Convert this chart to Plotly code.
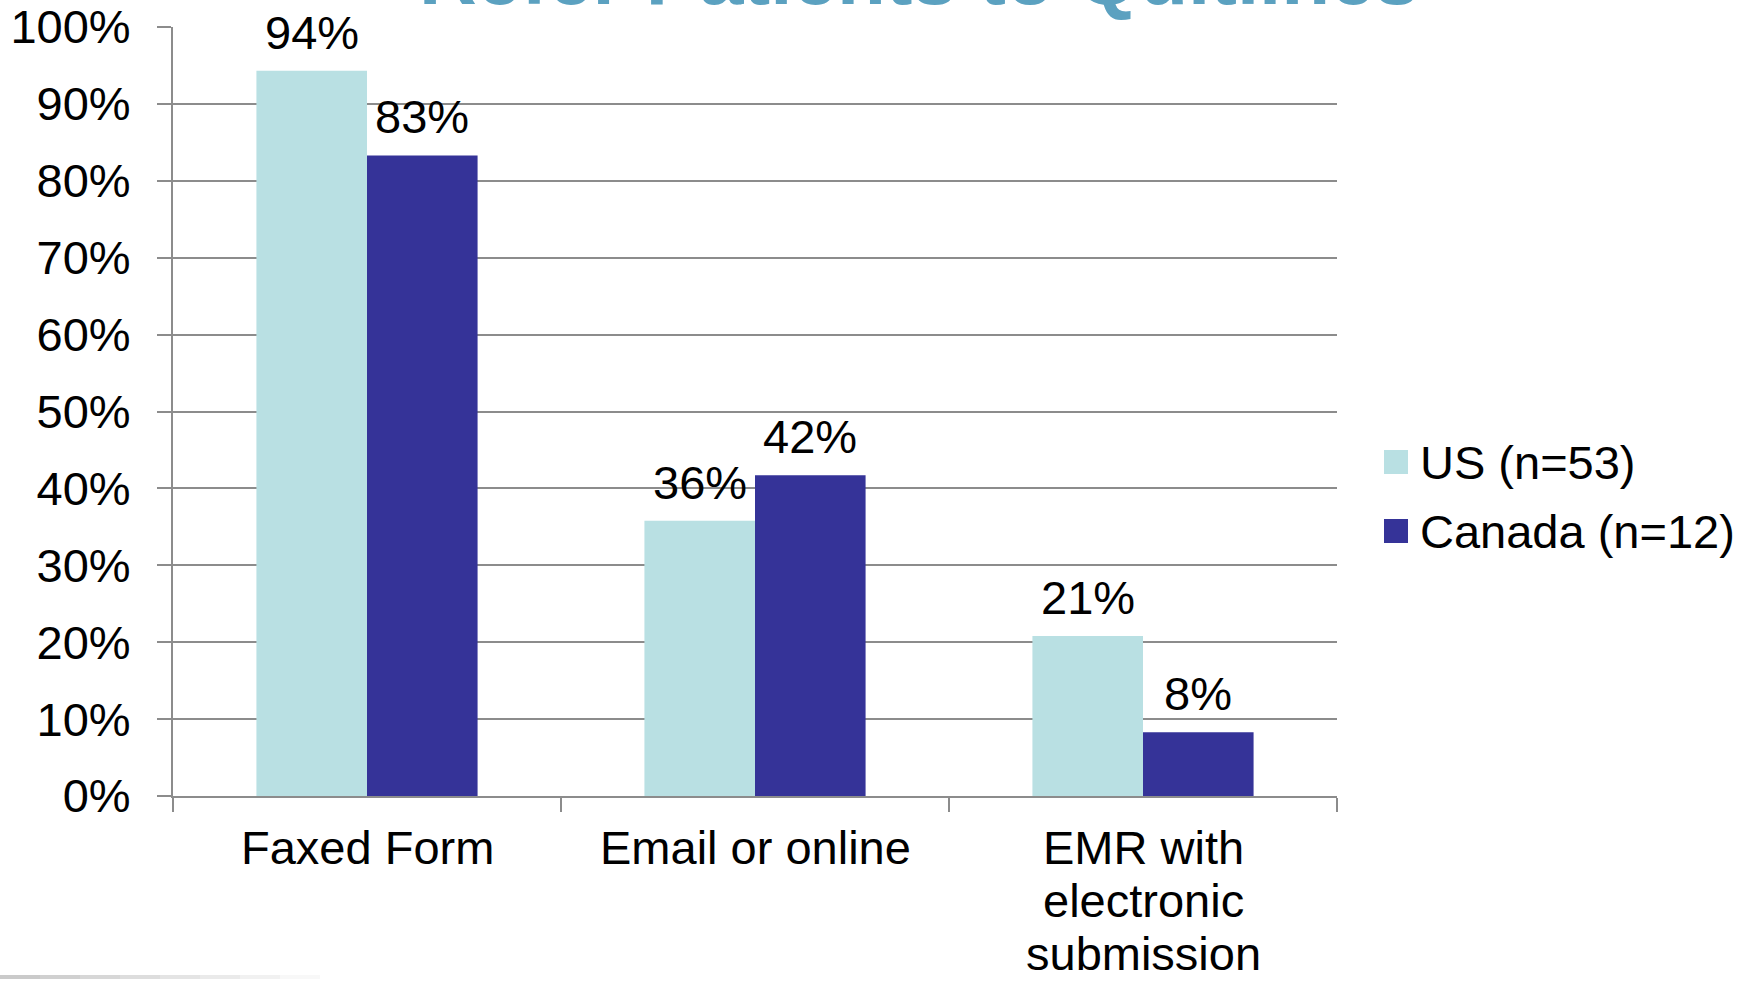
import plotly.graph_objects as go

# Referral methods and share of quitlines using each one
categories = ["Faxed Form", "Email or online", "EMR with electronic submission"]
category_lines = [["Faxed Form"], ["Email or online"], ["EMR with", "electronic", "submission"]]
series_names = ["US (n=53)", "Canada (n=12)"]
us_values = [94.3, 35.8, 20.8]
canada_values = [83.3, 41.7, 8.3]
series_values = [us_values, canada_values]
series_colors = ["#B9E0E3", "#353398"]
y_ticks = [0, 10, 20, 30, 40, 50, 60, 70, 80, 90, 100]
y_tick_labels = [f"{v}%" for v in y_ticks]
title_text = "Refer Patients to Quitlines"

W, H = 1758, 981
ML, MR, MT, MB = 173, 421, 27, 185
PW, PH = W - ML - MR, H - MT - MB
BARGAP = 0.43
FONT = "Arial, Liberation Sans, sans-serif"
FS = 47
DESC = 9          # distance from text baseline to annotation box bottom
LINE_STEP = 53    # baseline-to-baseline spacing of category labels
FIRST_BASELINE = 867


def px_to_paper_x(px):
    return (px - ML) / PW


def px_to_paper_y(py):
    return (H - MB - py) / PH


fig = go.Figure()
for name, vals, color in zip(series_names, series_values, series_colors):
    fig.add_trace(go.Bar(
        name=name, x=categories, y=vals,
        marker=dict(color=color, line=dict(width=0)),
        showlegend=False,
    ))

# value labels above each bar, placed at the bar's own height
bar_w = (1 - BARGAP) / len(series_values)
for s, vals in enumerate(series_values):
    offset = (s - (len(series_values) - 1) / 2) * bar_w
    for i, v in enumerate(vals):
        fig.add_annotation(
            x=i + offset, y=v, xref="x", yref="y",
            text=f"{v:.0f}%", showarrow=False,
            yanchor="bottom", yshift=10,
            font=dict(family=FONT, size=FS, color="#000000"),
        )

# category labels under the axis, set line by line
for i, lines in enumerate(category_lines):
    for j, line in enumerate(lines):
        fig.add_annotation(
            x=i, xref="x", yref="paper",
            y=px_to_paper_y(FIRST_BASELINE + j * LINE_STEP + DESC),
            xanchor="center", yanchor="bottom",
            text=line, showarrow=False,
            font=dict(family=FONT, size=FS, color="#000000"),
        )

# legend drawn as swatches with labels
legend_x = 1384
legend_rows = [462, 531]
sw = 24
for name, color, cy in zip(series_names, series_colors, legend_rows):
    fig.add_shape(
        type="rect", xref="paper", yref="paper",
        x0=px_to_paper_x(legend_x), x1=px_to_paper_x(legend_x + sw),
        y0=px_to_paper_y(cy + sw / 2), y1=px_to_paper_y(cy - sw / 2),
        fillcolor=color, line=dict(width=0),
    )
    fig.add_annotation(
        x=px_to_paper_x(legend_x + sw + 10), y=px_to_paper_y(cy),
        xref="paper", yref="paper", xanchor="left", yanchor="middle",
        text=name, showarrow=False,
        font=dict(family=FONT, size=FS, color="#000000"),
    )

# slide title, running off the top edge
fig.add_annotation(
    x=px_to_paper_x(919), y=px_to_paper_y(23), xref="paper", yref="paper",
    xanchor="center", yanchor="bottom",
    text=f"<b>{title_text}</b>", showarrow=False,
    font=dict(family=FONT, size=80, color="#5BA1C0"),
)

# faint fading rule at the bottom-left corner
for k in range(8):
    fig.add_shape(
        type="line", xref="paper", yref="paper",
        x0=px_to_paper_x(k * 40), x1=px_to_paper_x(k * 40 + 40),
        y0=px_to_paper_y(977), y1=px_to_paper_y(977),
        line=dict(color="#BDBDBD", width=4), opacity=0.8 * (1 - k / 8),
    )

fig.update_layout(
    width=W, height=H,
    margin=dict(l=ML, r=MR, t=MT, b=MB, pad=0, autoexpand=False),
    paper_bgcolor="#FFFFFF", plot_bgcolor="#FFFFFF",
    barmode="group", bargap=BARGAP, bargroupgap=0,
    font=dict(family=FONT, size=FS, color="#000000"),
    xaxis=dict(
        type="category", tickson="boundaries", automargin=False,
        ticks="outside", ticklen=14, tickwidth=2, tickcolor="#8C8C8C",
        showline=True, linecolor="#8C8C8C", linewidth=2,
        showgrid=False, showticklabels=False,
    ),
    yaxis=dict(
        range=[0, 100], tickvals=y_ticks, ticktext=y_tick_labels,
        automargin=False,
        ticks="outside", ticklen=14, tickwidth=2, tickcolor="#8C8C8C",
        showline=True, linecolor="#8C8C8C", linewidth=2,
        showgrid=True, gridcolor="#8C8C8C", gridwidth=2,
        zeroline=False, ticklabelstandoff=17,
        tickfont=dict(family=FONT, size=FS, color="#000000"),
    ),
)

fig.write_html("out.html")
